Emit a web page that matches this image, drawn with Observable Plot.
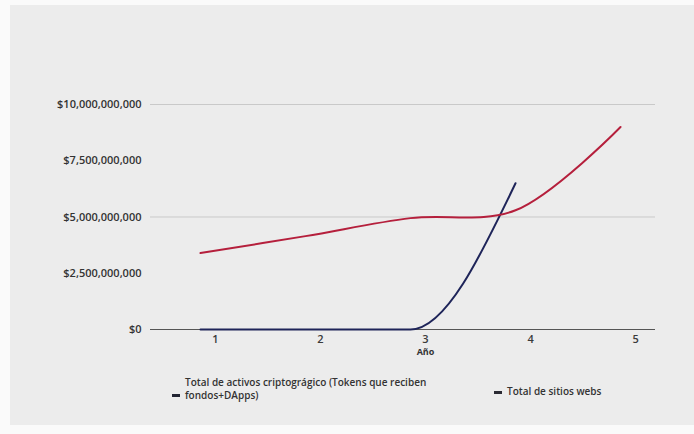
<!DOCTYPE html>
<html>
<head>
<meta charset="utf-8">
<script src="https://cdn.jsdelivr.net/npm/d3@7"></script>
<script src="https://cdn.jsdelivr.net/npm/@observablehq/plot@0.6"></script>
<style>
  html, body { margin: 0; padding: 0; background: #fafafa; }
  #wrap { position: absolute; left: 10px; top: 5px; width: 684px; height: 420px; background: #ececec; font-family: "Open Sans", sans-serif; }
  #legend { position: absolute; top: 370px; left: 0; width: 684px; height: 40px; font-size: 10px; font-weight: 600; color: #333; }
  .item { position: absolute; display: flex; align-items: flex-end; }
  .dash { display: inline-block; width: 8px; height: 3px; margin-right: 5px; margin-bottom: 5px; }
  .txt div { height: 13px; line-height: 13px; white-space: nowrap; }
</style>
</head>
<body>
<div id="wrap"><div id="chart"></div>
<div id="legend">
  <div class="item" style="left:162px; top:1px;"><span class="dash" id="d1"></span><span class="txt" id="t1"></span></div>
  <div class="item" style="left:484px; top:10px;"><span class="dash" id="d2" style="margin-bottom:4px"></span><span class="txt" id="t2"></span></div>
</div>
</div>
<script>
const years = [1, 2, 3, 4, 5];
const sitiosWebs = [3.4e9, 4.15e9, 4.95e9, 5.3e9, 9.0e9];
const activosYears = [1, 2, 3, 4];
const activos = [0, 0, 0, 6.5e9];
const yTicks = [0, 2.5e9, 5e9, 7.5e9, 1e10];
const gridTicks = [5e9, 1e10];
const seriesNames = [["Total de activos criptográgico (Tokens que reciben", "fondos+DApps)"], ["Total de sitios webs"]];
const colors = ["#1e2459", "#b51f3c"];
const legendColors = ["#222433", "#2a2a33"];

const red = years.map((x, i) => ({x, y: sitiosWebs[i]}));
const blue = activosYears.map((x, i) => ({x, y: activos[i]}));

const fmt = d => "$" + d3.format(",")(d);

const chart = Plot.plot({
  width: 684,
  height: 360,
  marginLeft: 140,
  marginRight: 39,
  marginTop: 99,
  marginBottom: 36,
  style: {background: "transparent", fontFamily: "Open Sans, sans-serif"},
  x: {domain: [0.524, 5.333]},
  y: {domain: [0, 1e10]},
  marks: [
    Plot.ruleY(gridTicks, {stroke: "#c9c9c9", strokeWidth: 1}),
    Plot.ruleY([0], {stroke: "#555", strokeWidth: 1.2}),
    Plot.axisY(yTicks, {tickSize: 0, tickPadding: 9, tickFormat: fmt, label: null, fontSize: 11, fontWeight: 600, fill: "#333"}),
    Plot.axisX(years, {tickSize: 0, tickPadding: 6, dx: 15, label: null, fontSize: 11, fontWeight: 600, fill: "#3a3a3a"}),
    Plot.text(["Año"], {x: () => 3, y: () => 0, dx: 15, dy: 23, text: d => d, fontSize: 9, fontWeight: 700, fill: "#333"}),
    Plot.line(blue, {x: "x", y: "y", stroke: colors[0], strokeWidth: 2, curve: "monotone-x"}),
    Plot.line(red, {x: "x", y: "y", stroke: colors[1], strokeWidth: 2, curve: "catmull-rom"})
  ]
});
document.getElementById("chart").appendChild(chart);
[["t1", seriesNames[0]], ["t2", seriesNames[1]]].forEach(([id, lines]) => {
  const el = document.getElementById(id);
  lines.forEach(l => { const d = document.createElement("div"); d.textContent = l; el.appendChild(d); });
});
document.getElementById("d1").style.background = legendColors[0];
document.getElementById("d2").style.background = legendColors[1];
</script>
</body>
</html>
